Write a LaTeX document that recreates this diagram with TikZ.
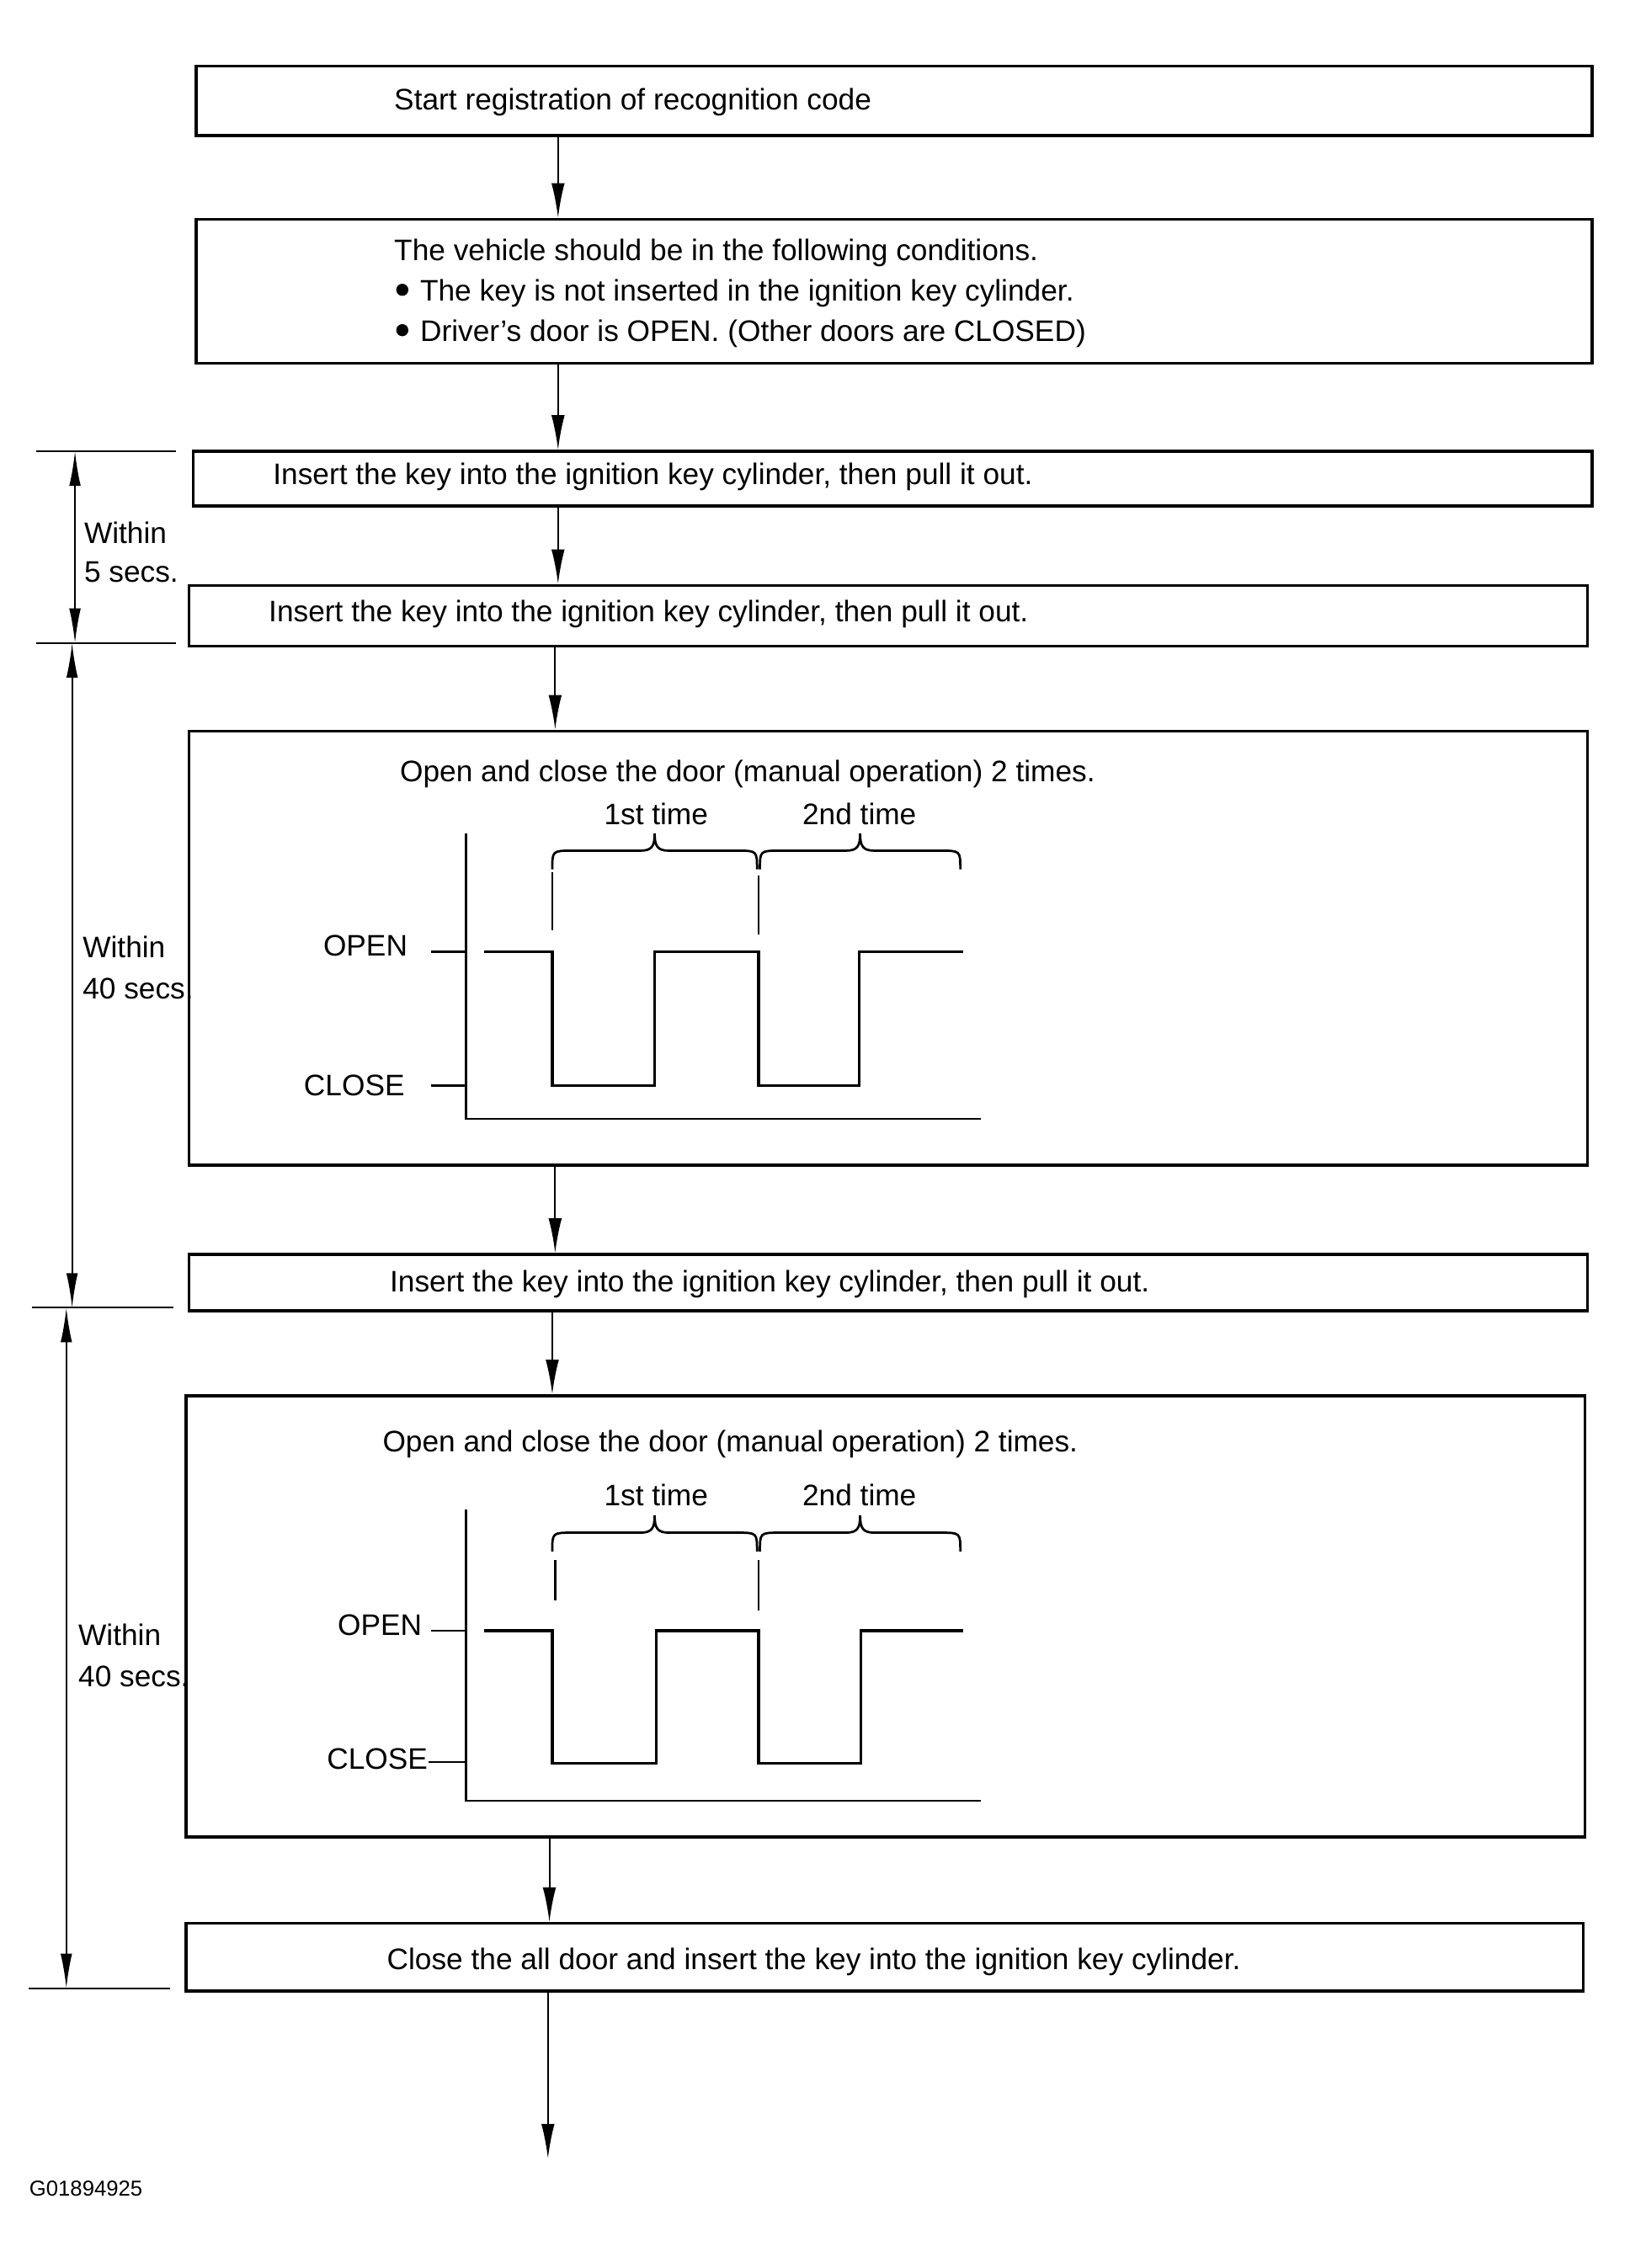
\documentclass[tikz,border=0pt]{standalone}
\usepackage{fontspec}
\setmainfont{Liberation Sans}
\usetikzlibrary{arrows.meta}
\newcommand\mybrace[5]{%
 \draw[brc] (#1,#3) .. controls (#1,#4) and (#1,#4) .. ({#1+14},#4) -- ({(#1+#2)/2-10},#4) .. controls ({(#1+#2)/2-2},#4) and ({(#1+#2)/2},{#4-3}) .. ({(#1+#2)/2},#5) .. controls ({(#1+#2)/2},{#4-3}) and ({(#1+#2)/2+2},#4) .. ({(#1+#2)/2+10},#4) -- ({#2-14},#4) .. controls (#2,#4) and (#2,#4) .. (#2,#3);}
\begin{document}
\begin{tikzpicture}[x=0.5pt,y=-0.5pt,
  box/.style={draw, line width=1pt, rectangle, inner sep=0pt},
  txt/.style={anchor=base west, inner sep=0pt, font=\fontsize{10.3}{12}\selectfont},
  ctxt/.style={anchor=base, inner sep=0pt, font=\fontsize{10.3}{12}\selectfont},
  rtxt/.style={anchor=base east, inner sep=0pt, font=\fontsize{10.3}{12}\selectfont},
  arr/.style={line width=0.6pt, -{Latex[length=12pt,width=4.6pt]}},
  dim/.style={line width=0.6pt, {Latex[length=12pt,width=4pt]}-{Latex[length=12pt,width=4pt]}},
  thn/.style={line width=0.6pt},
  axs/.style={line width=0.8pt},
  wave/.style={line width=1pt, line join=miter},
  brc/.style={line width=0.8pt},
  mk/.style={line width=0.7pt}]
\useasboundingbox (0,0) rectangle (1130,1573);
% boxes
\node[box, minimum width=484pt, minimum height=24pt] (b1) at (620,70) {};
\node[box, minimum width=484pt, minimum height=50pt] (b2) at (620,202) {};
\node[box, minimum width=485pt, minimum height=19pt] (b3) at (619,332) {};
\node[box, minimum width=485pt, minimum height=21pt] (b4) at (616,427) {};
\node[box, minimum width=485pt, minimum height=150.5pt] (b5) at (616,657.5) {};
\node[box, minimum width=485pt, minimum height=19.5pt] (b6) at (616,889.5) {};
\node[box, minimum width=485pt, minimum height=153pt] (b7) at (614,1121) {};
\node[box, minimum width=484.5pt, minimum height=23.5pt] (b8) at (613.5,1357.5) {};
% texts
\node[txt] (t1) at (273,76) {Start registration of recognition code};
\node[txt] (t2a) at (273,181) {The vehicle should be in the following conditions.};
\node[txt] (t2b) at (291,209) {The key is not inserted in the ignition key cylinder.};
\node[txt] (t2c) at (291,237) {Driver’s door is OPEN. (Other doors are CLOSED)};
\fill (279,201) circle (4.2);
\fill (279,229) circle (4.2);
\node[txt] (t3) at (189,336) {Insert the key into the ignition key cylinder, then pull it out.};
\node[txt] (t4) at (186,431) {Insert the key into the ignition key cylinder, then pull it out.};
\node[txt] (t5) at (277,542) {Open and close the door (manual operation) 2 times.};
\node[txt] (t6) at (270,896) {Insert the key into the ignition key cylinder, then pull it out.};
\node[txt] (t7) at (265,1007) {Open and close the door (manual operation) 2 times.};
\node[txt] (t8) at (268,1366) {Close the all door and insert the key into the ignition key cylinder.};
% flow arrows
\coordinate (k1) at (387,0);
\coordinate (k2) at (385,0);
\coordinate (k3) at (383,0);
\coordinate (k4) at (381,0);
\coordinate (kend) at (380,1497);
\draw[arr] (b1.south -| k1) -- (b2.north -| k1);
\draw[arr] (b2.south -| k1) -- (b3.north -| k1);
\draw[arr] (b3.south -| k1) -- (b4.north -| k1);
\draw[arr] (b4.south -| k2) -- (b5.north -| k2);
\draw[arr] (b5.south -| k2) -- (b6.north -| k2);
\draw[arr] (b6.south -| k3) -- (b7.north -| k3);
\draw[arr] (b7.south -| k4) -- (b8.north -| k4);
\draw[arr] (b8.south -| kend) -- (kend);
% dimension lines
\coordinate (h1a) at (25,313); \coordinate (h1b) at (122,313);
\coordinate (h2a) at (25,446); \coordinate (h2b) at (122,446);
\coordinate (h3a) at (22,907); \coordinate (h3b) at (120,907);
\coordinate (h4a) at (20,1379); \coordinate (h4b) at (118,1379);
\draw[thn] (h1a) -- (h1b);
\draw[thn] (h2a) -- (h2b);
\draw[thn] (h3a) -- (h3b);
\draw[thn] (h4a) -- (h4b);
\coordinate (d1a) at (52,313); \coordinate (d1b) at (52,446);
\coordinate (d2a) at (50,446); \coordinate (d2b) at (50,907);
\coordinate (d3a) at (46,907); \coordinate (d3b) at (46,1379);
\draw[dim] (d1a) -- (d1b);
\draw[dim] (d2a) -- (d2b);
\draw[dim] (d3a) -- (d3b);
\node[txt] (w1a) at (58,377) {Within};
\node[txt] (w1b) at (58,404) {5 secs.};
\node[txt] (w2a) at (57,664) {Within};
\node[txt] (w2b) at (57,693) {40 secs.};
\node[txt] (w3a) at (54,1141) {Within};
\node[txt] (w3b) at (54,1170) {40 secs.};
% chart 1
\draw[axs] (323,578) -- (323,776) -- (680,776);
\draw[axs] (299,660) -- (323,660);
\draw[axs] (299,753) -- (323,753);
\draw[wave] (336,660) -- (383,660) -- (383,753) -- (454,753) -- (454,660) -- (526,660) -- (526,753) -- (596,753) -- (596,660) -- (668,660);
\draw[mk] (383,605) -- (383,645);
\draw[mk] (526,607) -- (526,648);
\mybrace{383}{525}{603}{590}{578}
\mybrace{527}{666}{603}{590}{578}
\node[rtxt] (o1) at (283,663) {OPEN};
\node[rtxt] (c1) at (281,760) {CLOSE};
\node[ctxt] (f1) at (455,572) {1st time};
\node[ctxt] (s1) at (596,572) {2nd time};
% chart 2
\draw[axs] (323,1047) -- (323,1249) -- (680,1249);
\draw[axs] (299,1131) -- (323,1131);
\draw[axs] (297,1222) -- (323,1222);
\draw[wave] (336,1131) -- (383,1131) -- (383,1223) -- (455,1223) -- (455,1131) -- (526,1131) -- (526,1223) -- (597,1223) -- (597,1131) -- (668,1131);
\draw[mk] (385,1082) -- (385,1110);
\draw[mk] (526,1082) -- (526,1117);
\mybrace{383}{525}{1076}{1063}{1051}
\mybrace{527}{666}{1076}{1063}{1051}
\node[rtxt] (o2) at (293,1134) {OPEN};
\node[rtxt] (c2) at (297,1227) {CLOSE};
\node[ctxt] (f2) at (455,1044) {1st time};
\node[ctxt] (s2) at (596,1044) {2nd time};
% figure code
\node[anchor=base west, inner sep=0pt, font=\fontsize{7.5}{9}\selectfont] (g) at (20,1523) {G01894925};
\end{tikzpicture}
\end{document}
